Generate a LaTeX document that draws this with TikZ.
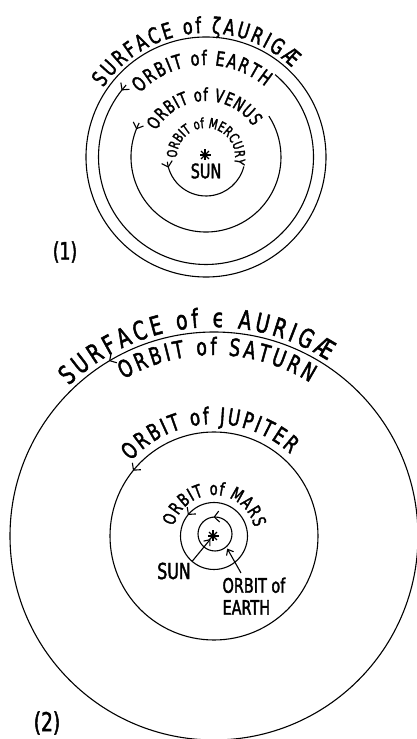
\documentclass[tikz,border=0pt]{standalone}
\usepackage{fontspec}
\newfontfamily\hand[FakeStretch=0.72,FakeBold=1.8]{DejaVu Sans}
\usetikzlibrary{arrows.meta,calc,decorations.text,decorations.markings}

\begin{document}
\begin{tikzpicture}[x=1pt,y=1pt,line width=1.1pt,
    arctext/.style={decorate,decoration={text along path,text align={fit to path},text={#1}}},
    orbitarrow/.style={postaction={decorate},decoration={markings,
      mark=at position #1 with {\arrow{Straight Barb[length=5pt,width=11pt,line width=1.1pt]}}}},
    lbl/.style={inner sep=1pt,font=\hand\fontsize{20}{22}\selectfont}]
  \useasboundingbox (0,0) rectangle (417,739);

  % (1) zeta Aurigae
  \coordinate (c1) at (206,582);
  \draw (c1) circle[radius=120];
  \draw[orbitarrow=7pt] ($(c1)+(138:107.5)$) arc[start angle=138,end angle=410,radius=107.5];
  \draw[orbitarrow=7pt] ($(c1)+(153:75)$) arc[start angle=153,end angle=393,radius=75];
  \draw[orbitarrow=6pt] ($(c1)+(187:39)$) arc[start angle=187,end angle=346,radius=39];
  \path[arctext={|\hand\fontsize{22}{24}\selectfont|SURFACE of ζAURIGÆ}]
    ($(c1)+(146:124)$) arc[start angle=146,end angle=46,radius=124];
  \path[arctext={|\hand\fontsize{20}{22}\selectfont|ORBIT of EARTH}]
    ($(c1)+(136:92)$) arc[start angle=136,end angle=50,radius=92];
  \path[arctext={|\hand\fontsize{18}{20}\selectfont|ORBIT of VENUS}]
    ($(c1)+(152:56)$) arc[start angle=152,end angle=33,radius=56];
  \path[arctext={|\hand\fontsize{14}{16}\selectfont|ORBIT of MERCURY}]
    ($(c1)+(182:29)$) arc[start angle=182,end angle=-14,radius=29];
  \coordinate (sun1) at ($(c1)+(-1,2)$);
  \foreach \a in {0,45,90,135}
    \draw[line width=1.3pt] ($(sun1)+(\a:5.5)$) -- ($(sun1)+(\a+180:5.5)$);
  \fill (sun1) circle[radius=2.4];
  \node (sunA) [lbl,font=\hand\fontsize{20}{22}\selectfont] at (206,568) {SUN};
  \node (one) [lbl,font=\hand\fontsize{24}{26}\selectfont] at (65,487) {(1)};

  % (2) epsilon Aurigae
  \coordinate (c2) at (214,203);
  \draw[orbitarrow=0.336] (c2) circle[radius=204];
  \draw[orbitarrow=0.392] (c2) circle[radius=104];
  \draw[orbitarrow=0.392] (c2) circle[radius=33.5];
  \draw[orbitarrow=0.264] ($(c2)+(1,2)$) circle[radius=17];
  \path[arctext={|\hand\fontsize{26}{28}\selectfont|SURFACE of ϵ AURIGÆ}]
    ($(c2)+(134:209)$) arc[start angle=134,end angle=57,radius=209];
  \path[arctext={|\hand\fontsize{24}{26}\selectfont|ORBIT of SATURN}]
    ($(c2)+(120:181)$) arc[start angle=120,end angle=58,radius=181];
  \path[arctext={|\hand\fontsize{23}{25}\selectfont|ORBIT of JUPITER}]
    ($(c2)+(138:112)$) arc[start angle=138,end angle=47,radius=112];
  \path[arctext={|\hand\fontsize{18}{20}\selectfont|ORBIT of MARS}]
    ($(c2)+(166:41)$) arc[start angle=166,end angle=12,radius=41];
  \coordinate (sun2) at ($(c2)+(-1,0)$);
  \foreach \a in {0,45,90,135}
    \draw[line width=1.3pt] ($(sun2)+(\a:5.5)$) -- ($(sun2)+(\a+180:5.5)$);
  \fill (sun2) circle[radius=2.4];
  \coordinate (earth2) at ($(c2)+(1,2)+(-50:19)$);
  \node (sunB) [lbl,font=\hand\fontsize{22}{24}\selectfont] at (174,168) {SUN};
  \node (earthB) [lbl,align=left,anchor=north west] at (221,163) {ORBIT of\\EARTH};
  \draw[-{Straight Barb[length=5pt,width=8pt]},shorten >=4pt,line width=1.1pt] (sunB.north east) -- (sun2);
  \draw[-{Straight Barb[length=5pt,width=8pt]},line width=1.1pt] ([xshift=20pt,yshift=3pt]earthB.north west) -- (earth2);
  \node (two) [lbl,font=\hand\fontsize{26}{28}\selectfont] at (47,16) {(2)};
\end{tikzpicture}
\end{document}
